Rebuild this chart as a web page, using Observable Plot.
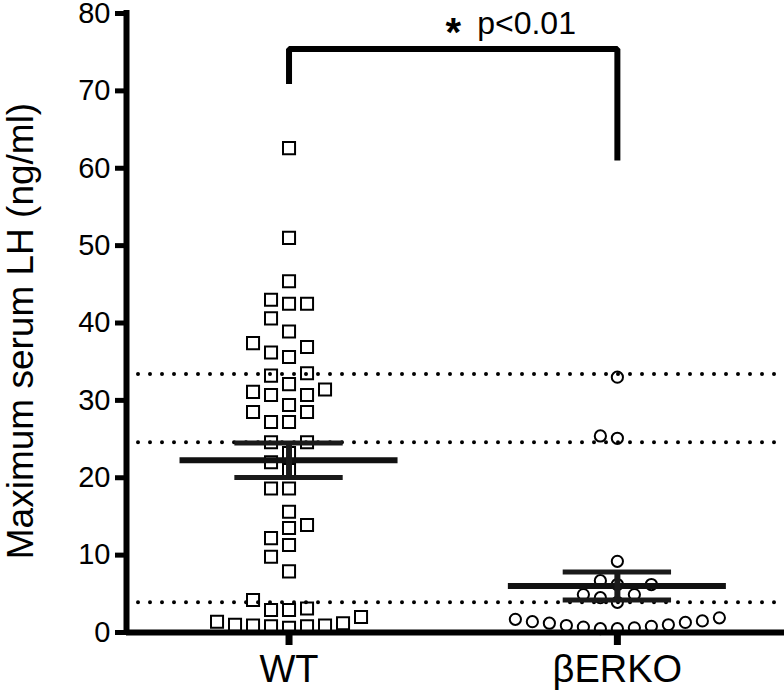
<!DOCTYPE html>
<html><head><meta charset="utf-8">
<script src="https://cdn.jsdelivr.net/npm/d3@7"></script>
<script src="https://cdn.jsdelivr.net/npm/@observablehq/plot@0.6"></script>
<style>
body{margin:0;background:#fff}
#chart svg{display:block;font-family:"Liberation Sans",Arial,Helvetica,sans-serif}
</style>
</head><body><div id="chart"></div>
<script>
// ---- data ----
const groups = ["WT", "βERKO"];
const wtValues = [62.6, 51.0, 45.4, 43.0, 42.5, 42.5, 40.6, 38.9, 37.4, 36.9, 36.2, 35.6, 33.5, 33.2,
  32.1, 31.4, 31.1, 30.7, 30.7, 29.4, 28.5, 28.5, 27.2, 27.2, 24.6, 24.6, 23.2, 22.0, 21.0, 18.6, 18.6,
  15.6, 13.9, 13.5, 12.2, 11.3, 9.8, 7.9, 4.2, 3.1, 2.9, 2.9, 2.0, 1.4, 1.2, 1.0, 0.9, 0.9, 0.8, 0.8, 0.6];
const erkoValues = [33.0, 25.4, 25.1, 9.2, 6.7, 6.2, 6.2, 4.9, 4.9, 4.5, 3.9,
  1.9, 1.7, 1.5, 1.4, 1.3, 1.2, 1.0, 0.9, 0.8, 0.7, 0.6, 0.5, 0.5];
const referenceLines = [33.4, 24.6, 3.9];
const bracketGroup = [1, 1, 2, 2];
const bracketValues = [70.9, 75.4, 75.4, 61.0];
const yTicks = [0, 10, 20, 30, 40, 50, 60, 70, 80];
const yLabel = "Maximum serum LH (ng/ml)";
const starText = "*";
const pText = "p<0.01";

// ---- layout ----
const W = 784, H = 698, mL = 126, mR = 0, mT = 13, mB = 66;
const xDomain = [0.505, 2.509], yDomain = [0, 80];
const pxPerX = (W - mL - mR) / (xDomain[1] - xDomain[0]);
const pxPerY = (H - mT - mB) / (yDomain[1] - yDomain[0]);

// simple deterministic beeswarm (half-slot steps, alternating left/right)
function swarm(values, slotPx, gapPx) {
  const slot = slotPx / pxPerX, gap = gapPx / pxPerY;
  const order = d3.range(values.length).sort((a, b) => values[a] - values[b]);
  const placed = [], off = new Array(values.length);
  for (const i of order) {
    const v = values[i];
    for (let k = 0; ; k++) {
      const c = k === 0 ? 0 : (k % 2 ? -1 : 1) * Math.ceil(k / 2) * 0.5;
      const hit = placed.some(p => Math.abs(p.v - v) < gap && Math.abs(p.c - c) < 0.999);
      if (!hit) { placed.push({v, c}); off[i] = c * slot; break; }
    }
  }
  return values.map((v, i) => ({group: 0, value: v, offset: off[i]}));
}
const wtData = swarm(wtValues, 18, 15.5).map(d => ({...d, group: 1}));
const erkoData = swarm(erkoValues, 17, 15.5).map(d => ({...d, group: 2}));

const stats = [wtValues, erkoValues].map((vals, i) => {
  const m = d3.mean(vals), se = d3.deviation(vals) / Math.sqrt(vals.length);
  return {group: i + 1, mean: m, lo: m - se, hi: m + se};
});
const bracket = bracketGroup.map((g, i) => ({group: g, value: bracketValues[i]}));
const mid = (1 + groups.length) / 2;

const ink = "#000";
const chart = Plot.plot({
  width: W, height: H,
  marginLeft: mL, marginRight: mR, marginTop: mT, marginBottom: mB,
  x: {domain: xDomain},
  y: {domain: yDomain},
  style: {fontFamily: "'Liberation Sans', Arial, Helvetica, sans-serif", color: ink, background: "#fff", overflow: "visible"},
  marks: [
    Plot.ruleY(referenceLines, {stroke: ink, strokeWidth: 4, strokeDasharray: "0 12", strokeLinecap: "round"}),
    Plot.dot(wtData, {x: d => d.group + d.offset, y: "value", symbol: "square", r: 6.8, stroke: ink, strokeWidth: 2, fill: "none"}),
    Plot.dot(erkoData, {x: d => d.group + d.offset, y: "value", symbol: "circle", r: 5.6, stroke: ink, strokeWidth: 2, fill: "none"}),
    Plot.ruleY(stats, {y: "mean", x1: d => d.group - 0.332, x2: d => d.group + 0.332, stroke: "#111", strokeWidth: 6}),
    Plot.ruleY(stats, {y: "hi", x1: d => d.group - 0.165, x2: d => d.group + 0.165, stroke: "#1a1a1a", strokeWidth: 5}),
    Plot.ruleY(stats, {y: "lo", x1: d => d.group - 0.165, x2: d => d.group + 0.165, stroke: "#1a1a1a", strokeWidth: 5}),
    Plot.ruleX(stats, {x: "group", y1: "lo", y2: "hi", stroke: "#1a1a1a", strokeWidth: 6}),
    Plot.line(bracket, {x: "group", y: "value", stroke: ink, strokeWidth: 6, strokeLinejoin: "miter", strokeLinecap: "butt"}),
    Plot.text([starText], {text: d => d, x: mid, y: 75.4, dy: -16, fontSize: 40, fontWeight: "bold", fill: ink, lineAnchor: "middle"}),
    Plot.text([pText], {text: d => d, x: mid, y: 75.4, dx: 24, dy: -25, fontSize: 32, textAnchor: "start", fill: ink}),
    Plot.ruleY([yDomain[0]], {stroke: ink, strokeWidth: 6}),
    Plot.ruleX([xDomain[0]], {y1: yDomain[0], y2: yDomain[1], stroke: ink, strokeWidth: 6, strokeLinecap: "square"}),
    Plot.axisY({ticks: yTicks, tickSize: 11, tickPadding: 5, fontSize: 29, strokeWidth: 5, label: null, stroke: ink, fill: ink}),
    Plot.axisX({ticks: [1, 2], tickFormat: d => groups[d - 1], tickSize: 13, tickPadding: 10, fontSize: 38, strokeWidth: 7, label: null, stroke: ink, fill: ink}),
    Plot.text([yLabel], {text: d => d, frameAnchor: "left", textAnchor: "middle", rotate: -90, dx: -105, dy: 8, fontSize: 37, fill: ink})
  ]
});
document.getElementById("chart").appendChild(chart);
</script>
</body></html>
